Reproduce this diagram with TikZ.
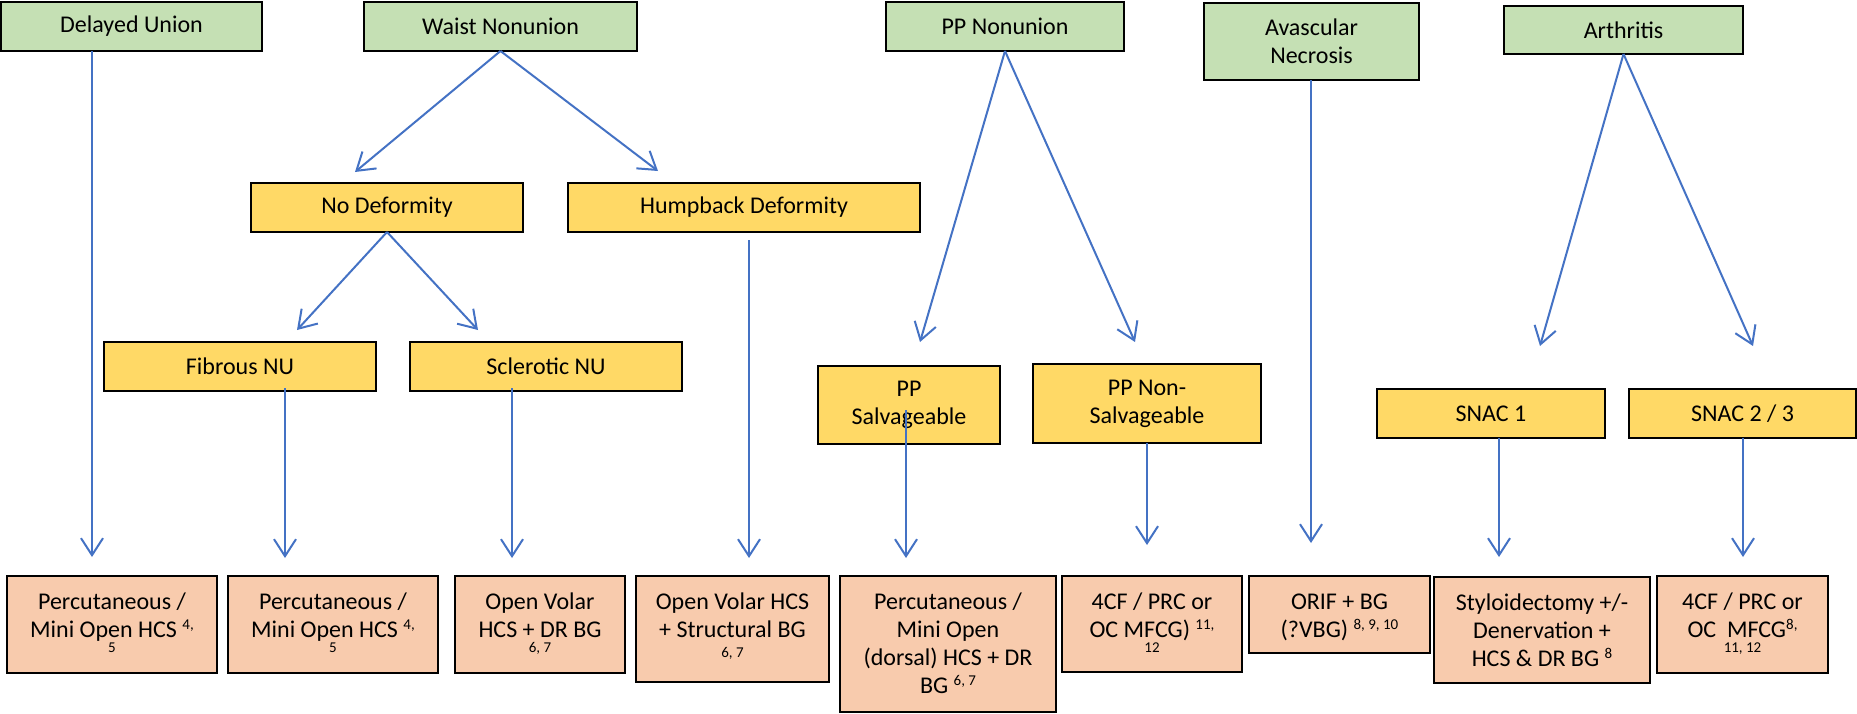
\documentclass[tikz,border=0pt]{standalone}
\usepackage{fontspec}
\setmainfont{Carlito}
\usetikzlibrary{arrows.meta}
\definecolor{gfill}{HTML}{C5E0B4}
\definecolor{yfill}{HTML}{FFD966}
\definecolor{sfill}{HTML}{F8CBAD}
\definecolor{ablue}{HTML}{4472C4}
\newcommand\sups[1]{\raisebox{0.62ex}{\fontsize{15}{17}\selectfont #1}}
\newcommand\smalltxt[1]{{\fontsize{15}{17}\selectfont #1}}
% top-aligned text block of given width and height
\newcommand\topbox[3]{\parbox[c][#2][t]{#1}{\centering\rule{0pt}{33pt}#3\par}}
\begin{document}
\begin{tikzpicture}[x=1pt,y=1pt,
  box/.style={draw=black, line width=2pt, inner sep=0pt, outer sep=0pt, align=center,
              font=\fontsize{24}{28}\selectfont},
  gbox/.style={box, fill=gfill},
  ybox/.style={box, fill=yfill},
  sbox/.style={box, fill=sfill},
  ln/.style={draw=ablue, line width=2pt},
  arr/.style={ln, -{Straight Barb[length=17pt,width=22pt,line width=2pt]}}]
\useasboundingbox (0,0) rectangle (1857,-713);

% top level
\node[gbox, minimum width=261, minimum height=49] (du)  at (131.5,-26.5) {Delayed Union};
\node[gbox, minimum width=273, minimum height=49] (wn)  at (500.5,-26.5) {Waist Nonunion};
\node[gbox, minimum width=238, minimum height=49] (ppn) at (1005,-26.5) {PP Nonunion};
\node[gbox, minimum width=215, minimum height=77] (avn) at (1311.5,-41.5) {Avascular\\Necrosis};
\node[gbox, minimum width=239, minimum height=48] (art) at (1623.5,-30) {Arthritis};

% second level
\node[ybox, minimum width=272, minimum height=49] (nd)   at (387,-207.5) {No Deformity};
\node[ybox, minimum width=352, minimum height=49] (hd)   at (744,-207.5) {Humpback Deformity};
\node[ybox, minimum width=272, minimum height=49] (fnu)  at (240,-366.5) {Fibrous NU};
\node[ybox, minimum width=272, minimum height=49] (snu)  at (546,-366.5) {Sclerotic NU};
\node[ybox, minimum width=182, minimum height=78] (pps)  at (909,-405) {PP\\Salvageable};
\node[ybox, minimum width=228, minimum height=79] (ppns) at (1147,-403.5) {PP Non-\\Salvageable};
\node[ybox, minimum width=228, minimum height=49] (s1)   at (1491,-413.5) {SNAC 1};
\node[ybox, minimum width=227, minimum height=49] (s23)  at (1742.5,-413.5) {SNAC 2 / 3};

% bottom level (text hangs from the top of each box)
\node[sbox] (b1) at (112,-624.5)
  {\topbox{210pt}{97pt}{Percutaneous /\\Mini Open HCS \sups{4,}\\[-13pt]\smalltxt{5}}};
\node[sbox] (b2) at (333,-624.5)
  {\topbox{210pt}{97pt}{Percutaneous /\\Mini Open HCS \sups{4,}\\[-13pt]\smalltxt{5}}};
\node[sbox] (b3) at (540,-624.5)
  {\topbox{170pt}{97pt}{Open Volar\\HCS + DR BG\\[-13pt]\smalltxt{6, 7}}};
\node[sbox] (b4) at (732.5,-629)
  {\topbox{193pt}{106pt}{Open Volar HCS\\+ Structural BG\\[-8pt]\smalltxt{6, 7}}};
\node[sbox] (b5) at (948,-644)
  {\topbox{216pt}{136pt}{Percutaneous /\\Mini Open\\(dorsal) HCS + DR\\BG \sups{6, 7}}};
\node[sbox] (b6) at (1152,-624)
  {\topbox{180pt}{96pt}{4CF / PRC or\\OC MFCG) \sups{11,}\\[-13pt]\smalltxt{12}}};
\node[sbox] (b7) at (1339.5,-614.5)
  {\topbox{181pt}{77pt}{ORIF + BG\\(?VBG) \sups{8, 9, 10}}};
\node[sbox] (b8) at (1542,-630)
  {\topbox{216pt}{106pt}{Styloidectomy +/-\\Denervation +\\HCS \& DR BG \sups{8}}};
\node[sbox] (b9) at (1742.5,-624.5)
  {\topbox{171pt}{97pt}{4CF / PRC or\\OC~ MFCG\sups{8,}\\[-13pt]\smalltxt{11, 12}}};

% arrow tips
\coordinate (duT)   at (92,-557);
\coordinate (wnL)   at (355,-172);
\coordinate (wnR)   at (658,-171);
\coordinate (ndL)   at (297,-330);
\coordinate (ndR)   at (478,-330);
\coordinate (hdT)   at (749,-558);
\coordinate (fnuT)  at (285,-558);
\coordinate (snuT)  at (512,-558);
\coordinate (ppnL)  at (920,-342);
\coordinate (ppnR)  at (1135,-342);
\coordinate (ppsT)  at (906,-558);
\coordinate (ppnsT) at (1147,-545);
\coordinate (avnT)  at (1311,-543);
\coordinate (artL)  at (1540,-346);
\coordinate (artR)  at (1753,-346);
\coordinate (s1T)   at (1499,-557);
\coordinate (s23T)  at (1743,-557);

% connectors
\draw[arr] (duT |- du.south) -- (duT);
\draw[arr] (wn.south) -- (wnL);
\draw[arr] (wn.south) -- (wnR);
\draw[arr] (nd.south) -- (ndL);
\draw[arr] (nd.south) -- (ndR);
\draw[arr] ([yshift=-8pt]hdT |- hd.south) -- (hdT);
\draw[arr] ([yshift=3pt]fnuT |- fnu.south) -- (fnuT);
\draw[arr] ([yshift=3pt]snuT |- snu.south) -- (snuT);
\draw[arr] (ppn.south) -- (ppnL);
\draw[arr] (ppn.south) -- (ppnR);
\draw[arr] ([yshift=-5pt]ppsT |- pps.center) -- (ppsT);
\draw[arr] (ppnsT |- ppns.south) -- (ppnsT);
\draw[arr] (avnT |- avn.south) -- (avnT);
\draw[arr] (art.south) -- (artL);
\draw[arr] (art.south) -- (artR);
\draw[arr] (s1T |- s1.south) -- (s1T);
\draw[arr] (s23T |- s23.south) -- (s23T);
\end{tikzpicture}
\end{document}
